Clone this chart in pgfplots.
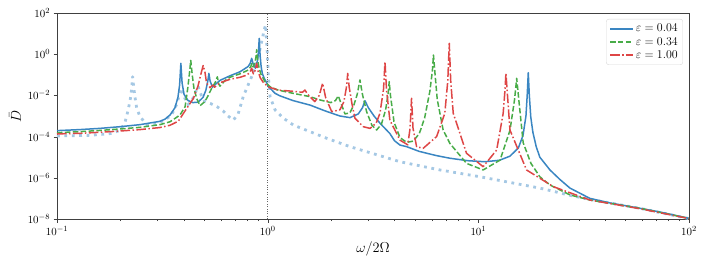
\documentclass[border=0pt]{standalone}
\usepackage{pgfplots}
\pgfplotsset{compat=1.18}
\definecolor{cblue}{RGB}{58,134,194}
\definecolor{cgreen}{RGB}{72,172,72}
\definecolor{cred}{RGB}{222,70,70}
\definecolor{cdot}{RGB}{165,200,228}
\begin{document}
\begin{tikzpicture}
\begin{axis}[name=ax, scale only axis, width=632bp, height=206bp,
  xmode=log, ymode=log, xmin=0.1, xmax=100, ymin=1e-8, ymax=100,
  xtick={0.1,1,10,100}, ytick={1e-8,1e-6,1e-4,1e-2,1,100}, yminorticks=false,
  tick align=outside, xtick pos=bottom, ytick pos=left,
  axis line style={black!75}, tick style={black!75},
  major tick length=3.5bp, minor tick length=2bp,
  tick label style={font=\fontsize{11}{13}\selectfont},
  xlabel={$\omega/2\Omega$}, ylabel={$\bar{D}$},
  label style={font=\fontsize{15}{18}\selectfont},
  legend cell align=left,
  legend style={at={(0.9905,0.971)}, anchor=north east, draw=black!15, rounded corners=2.5bp,
    font=\fontsize{13}{16}\selectfont, inner xsep=3bp, inner ysep=3bp},
  legend image code/.code={\draw[#1] (0bp,0bp) -- (23bp,0bp);},
]
% dotted reference curve
\addplot[cdot, line width=2.8bp, line cap=butt, line join=round, dash pattern=on 2.8bp off 4.6bp, forget plot] coordinates {
(0.1,1.072e-4) (0.1413,1.148e-4) (0.1778,1.380e-4) (0.1995,1.995e-4) (0.2104,5.01e-4)
(0.2178,1.995e-3) (0.2239,8.71e-3) (0.2265,2.51e-2) (0.2286,8.13e-2) (0.2312,2.51e-2)
(0.2344,8.71e-3) (0.2388,2.51e-3) (0.2477,9.33e-4) (0.2667,3.80e-4) (0.2951,3.98e-4)
(0.3236,6.31e-4) (0.350,1.122e-3) (0.3715,3.98e-3) (0.3873,2.239e-2) (0.4027,7.94e-3)
(0.419,3.55e-3) (0.4416,7.08e-3) (0.467,2.818e-2) (0.4842,1e-2) (0.5035,5.01e-3)
(0.537,3.98e-3) (0.5754,2.818e-3) (0.6138,1.778e-3) (0.6486,1e-3) (0.6871,6.31e-4)
(0.7244,1.259e-3) (0.7656,8.71e-3) (0.8395,8.13e-2) (0.887,0.363) (0.929,2.818)
(0.9616,14.13) (0.9772,26.3) (0.9908,3.16) (1.007,0.1) (1.026,8.71e-3)
(1.084,1.995e-3) (1.186,7.94e-4) (1.324,3.63e-4) (1.589,1.738e-4) (1.905,8.32e-5)
(2.460,3.24e-5) (4.246,6.03e-6) (6.577,2.40e-6) (10.19,1.122e-6) (19.59,3.16e-7)
(27.23,1.413e-7) (33.88,8.91e-8) (58.48,3.31e-8) (100,1.047e-8)
};
\addplot[black!60, line width=0.7bp, dash pattern=on 0.8bp off 1.6bp, forget plot] coordinates {(1,1e-8) (1,100)};
% eps = 0.04
\addplot[cblue, line width=1.5bp, line join=round] coordinates {
(0.1,1.95e-4) (0.1285,2.19e-4) (0.16,2.51e-4) (0.199,3.02e-4) (0.2477,3.80e-4)
(0.276,4.57e-4) (0.308,5.50e-4) (0.326,7.08e-4) (0.344,1.12e-3) (0.363,2.51e-3)
(0.375,7.94e-3) (0.382,3.16e-2) (0.3873,0.363) (0.3926,3.98e-2) (0.401,1.12e-2)
(0.419,5.62e-3) (0.4416,4.47e-3) (0.467,4.68e-3) (0.493,7.94e-3) (0.509,1.78e-2)
(0.520,5.01e-2) (0.526,0.1175) (0.533,5.01e-2) (0.547,2.51e-2) (0.562,3.31e-2)
(0.594,5.37e-2) (0.662,8.91e-2) (0.740,0.1413) (0.807,0.251) (0.826,0.355)
(0.8395,0.631) (0.855,0.316) (0.875,0.209) (0.895,0.501) (0.904,1.259)
(0.912,5.89) (0.920,1.0) (0.931,0.251) (0.944,0.1122) (0.966,6.31e-2)
(0.9886,4.17e-2) (1.005,2.82e-2) (1.084,1.259e-2) (1.143,9.55e-3) (1.318,5.62e-3)
(1.589,3.39e-3) (1.871,1.778e-3) (2.203,1e-3) (2.460,8.32e-4) (2.692,1.259e-3)
(2.818,2.51e-3) (2.897,5.50e-3) (3.006,2.51e-3) (3.199,1e-3) (3.412,4.5e-4)
(3.802,1.41e-4) (4.0,6.3e-5) (4.246,3.89e-5) (4.571,3.24e-5) (5.248,1.905e-5) (6.310,1.202e-5)
(7.328,8.91e-6) (8.913,6.76e-6) (10.74,6.03e-6) (12.59,7.08e-6) (14.13,1.122e-5)
(15.49,2.82e-5) (16.29,1.122e-4) (16.83,1e-3) (17.06,1e-2) (17.26,0.1259)
(17.46,1e-2) (17.74,8.91e-4) (18.16,1.585e-4) (18.84,3.16e-5) (19.59,1e-5)
(21.88,2.40e-6) (24.38,8.32e-7) (27.23,3.16e-7) (33.88,1e-7) (42.17,6.03e-8)
(58.48,3.31e-8) (72.78,2.19e-8) (100,1.072e-8)
};
\addlegendentry{$\varepsilon = 0.04$}
% eps = 0.34
\addplot[cgreen, line width=1.5bp, line join=round, dash pattern=on 5.5bp off 2.4bp] coordinates {
(0.1,1.549e-4) (0.1285,1.738e-4) (0.16,1.995e-4) (0.199,2.344e-4) (0.2477,2.818e-4)
(0.308,3.80e-4) (0.344,5.25e-4) (0.363,7.59e-4) (0.3837,1.122e-3) (0.4055,2.818e-3)
(0.4169,1.995e-2) (0.4246,0.1) (0.4315,0.501) (0.4385,0.1) (0.4467,2.239e-2)
(0.4603,7.08e-3) (0.4775,3.16e-3) (0.5035,5.01e-3) (0.5224,1e-2) (0.542,2.188e-2)
(0.565,4.47e-2) (0.577,7.94e-2) (0.586,3.55e-2) (0.594,2.818e-2) (0.627,5.25e-2)
(0.662,7.59e-2) (0.740,0.1122) (0.809,0.1698) (0.832,0.251) (0.841,0.355)
(0.853,0.240) (0.871,0.398) (0.881,0.794) (0.887,1.66) (0.895,0.631)
(0.908,0.251) (0.927,0.1122) (0.9705,4.68e-2) (1.026,2.63e-2) (1.119,1.82e-2)
(1.321,1.259e-2) (1.589,8.71e-3) (1.770,6.03e-3) (1.995,4.47e-3) (2.099,5.62e-3)
(2.163,9.55e-3) (2.223,4.47e-3) (2.328,1.259e-3) (2.455,1.413e-3) (2.570,3.55e-3)
(2.661,1.122e-2) (2.742,5.62e-2) (2.818,1.122e-2) (2.951,1.585e-3) (3.126,3.55e-4)
(3.289,2.089e-4) (3.467,3.98e-4) (3.631,1.995e-3) (3.733,1.259e-2) (3.776,4.68e-2)
(3.828,1e-2) (3.981,5.01e-4) (4.246,8.91e-5) (4.571,5.25e-5) (4.909,6.03e-5)
(5.248,1.413e-4) (5.559,7.94e-4) (5.888,1.585e-2) (6.053,0.1585) (6.124,0.912)
(6.223,0.1259) (6.383,6.31e-3) (6.808,2.089e-4) (7.328,4.68e-5) (8.790,5.01e-6)
(10.54,2.40e-6) (12.68,7.24e-6) (14.13,1.995e-4) (14.86,6.31e-3) (15.21,6.76e-2)
(15.56,6.31e-3) (16.33,5.01e-5) (17.78,5.01e-6) (19.59,1.122e-6) (21.88,4.47e-7)
(27.23,1.479e-7) (33.88,8.32e-8) (58.48,3.31e-8) (100,1.072e-8)
};
\addlegendentry{$\varepsilon = 0.34$}
% eps = 1.00
\addplot[cred, line width=1.5bp, line join=round, dash pattern=on 9.6bp off 2.4bp on 1.5bp off 2.4bp] coordinates {
(0.1,1.349e-4) (0.1285,1.445e-4) (0.16,1.622e-4) (0.199,1.862e-4) (0.2477,2.188e-4)
(0.308,2.754e-4) (0.344,3.55e-4) (0.3767,5.62e-4) (0.4055,1.778e-3) (0.4436,7.08e-3)
(0.467,2.818e-2) (0.481,0.1) (0.494,0.2818) (0.5035,0.1413) (0.5129,3.98e-2)
(0.532,2.40e-2) (0.5495,3.16e-2) (0.5598,2.51e-2) (0.594,4.17e-2) (0.662,6.03e-2)
(0.740,7.59e-2) (0.794,9.55e-2) (0.822,0.1259) (0.8395,0.209) (0.855,0.1122)
(0.871,0.1585) (0.887,0.363) (0.9016,0.1413) (0.9226,7.08e-2) (0.955,4.17e-2)
(1.005,2.63e-2) (1.119,1.82e-2) (1.318,1.585e-2) (1.462,1.413e-2) (1.503,1.82e-2)
(1.549,1.122e-2) (1.675,5.01e-3) (1.758,1e-2) (1.824,3.89e-2) (1.884,7.94e-3)
(2.014,1.622e-3) (2.203,1.995e-3) (2.301,5.01e-3) (2.366,2.51e-2) (2.399,0.1175)
(2.438,2.51e-2) (2.512,3.98e-3) (2.594,7.94e-4) (2.844,3.02e-4) (3.062,2.51e-4)
(3.273,4.47e-4) (3.412,1.349e-3) (3.548,1.995e-2) (3.606,0.4365) (3.664,1.995e-2)
(3.802,6.31e-4) (4.246,6.76e-5) (4.624,3.98e-5) (4.742,2.51e-4) (4.819,7.24e-3)
(4.898,2.51e-4) (5.093,3.24e-5) (5.470,2.69e-5) (6.339,1e-4) (6.934,1.349e-3)
(7.161,5.01e-2) (7.278,3.39) (7.396,5.01e-2) (7.603,1.349e-3) (8.790,1.549e-5)
(10.54,3.467e-6) (12.22,2.239e-5) (13.12,1.349e-3) (13.37,1.585e-2) (13.52,0.1175)
(13.71,1.585e-2) (14.13,2.089e-4) (16.94,2.40e-6) (22.70,3.715e-7) (33.88,8.32e-8)
(58.48,3.16e-8) (100,1.047e-8)
};
\addlegendentry{$\varepsilon = 1.00$}
\end{axis}
\path ([xshift=-57bp,yshift=-46bp]ax.south west) rectangle ([xshift=17bp,yshift=13bp]ax.north east);
\end{tikzpicture}
\end{document}
